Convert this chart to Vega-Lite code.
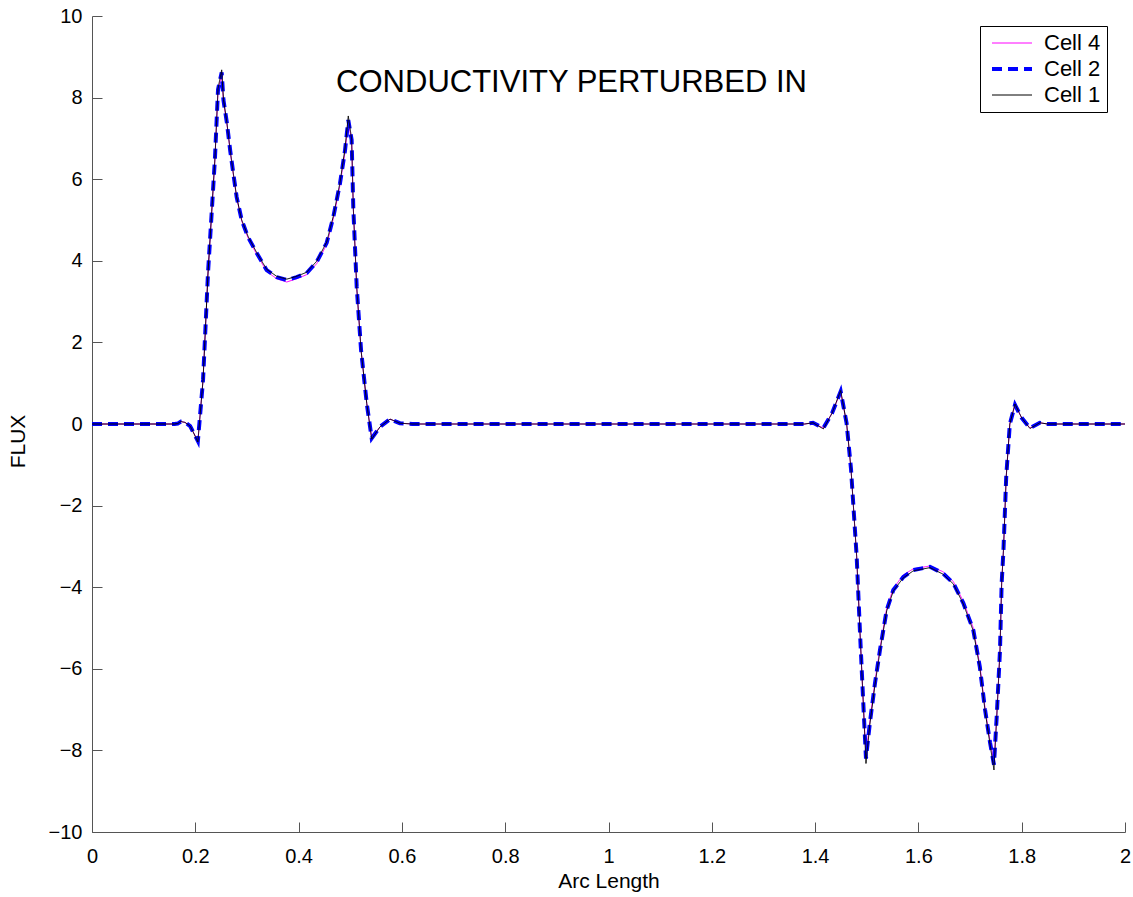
{
  "$schema": "https://vega.github.io/schema/vega-lite/v6.json",
  "autosize": {"type": "none"},
  "width": 1033,
  "height": 816,
  "padding": {"left": 92, "top": 16, "right": 8, "bottom": 65},
  "background": "white",
  "config": {
    "view": {"stroke": null},
    "font": "Liberation Sans",
    "axis": {
      "grid": false,
      "domainColor": "#555555",
      "tickColor": "#555555",
      "tickSize": -10,
      "labelFlush": false,
      "labelFont": "Liberation Sans",
      "labelFontSize": 20,
      "labelColor": "black",
      "titleFont": "Liberation Sans",
      "titleFontSize": 20,
      "titleFontWeight": "normal",
      "titleColor": "black"
    }
  },
  "datasets": {
    "flux": [
      {"s": "Cell 4", "x": 0, "y": 0}, {"s": "Cell 4", "x": 0.1, "y": 0}, {"s": "Cell 4", "x": 0.16, "y": 0}, {"s": "Cell 4", "x": 0.166, "y": 0.01}, {"s": "Cell 4", "x": 0.172, "y": 0.06}, {"s": "Cell 4", "x": 0.18, "y": 0.04}, {"s": "Cell 4", "x": 0.19, "y": -0.05}, {"s": "Cell 4", "x": 0.196, "y": -0.2}, {"s": "Cell 4", "x": 0.205, "y": -0.4}, {"s": "Cell 4", "x": 0.215, "y": 1.08}, {"s": "Cell 4", "x": 0.2246, "y": 3.7}, {"s": "Cell 4", "x": 0.2318, "y": 5.2}, {"s": "Cell 4", "x": 0.238, "y": 6.5}, {"s": "Cell 4", "x": 0.244, "y": 8.15}, {"s": "Cell 4", "x": 0.2511, "y": 8.58}, {"s": "Cell 4", "x": 0.2545, "y": 7.92}, {"s": "Cell 4", "x": 0.2612, "y": 7.36}, {"s": "Cell 4", "x": 0.2676, "y": 6.68}, {"s": "Cell 4", "x": 0.2735, "y": 6.13}, {"s": "Cell 4", "x": 0.2801, "y": 5.54}, {"s": "Cell 4", "x": 0.2898, "y": 4.98}, {"s": "Cell 4", "x": 0.3021, "y": 4.56}, {"s": "Cell 4", "x": 0.3189, "y": 4.16}, {"s": "Cell 4", "x": 0.3382, "y": 3.74}, {"s": "Cell 4", "x": 0.3576, "y": 3.56}, {"s": "Cell 4", "x": 0.377, "y": 3.48}, {"s": "Cell 4", "x": 0.3963, "y": 3.56}, {"s": "Cell 4", "x": 0.4157, "y": 3.66}, {"s": "Cell 4", "x": 0.435, "y": 3.93}, {"s": "Cell 4", "x": 0.4544, "y": 4.4}, {"s": "Cell 4", "x": 0.4672, "y": 5.03}, {"s": "Cell 4", "x": 0.4802, "y": 5.86}, {"s": "Cell 4", "x": 0.4898, "y": 6.66}, {"s": "Cell 4", "x": 0.4962, "y": 7.4}, {"s": "Cell 4", "x": 0.5027, "y": 6.94}, {"s": "Cell 4", "x": 0.5059, "y": 5.3}, {"s": "Cell 4", "x": 0.5125, "y": 3.36}, {"s": "Cell 4", "x": 0.521, "y": 1.8}, {"s": "Cell 4", "x": 0.532, "y": 0.5}, {"s": "Cell 4", "x": 0.5415, "y": -0.33}, {"s": "Cell 4", "x": 0.5576, "y": -0.07}, {"s": "Cell 4", "x": 0.577, "y": 0.12}, {"s": "Cell 4", "x": 0.596, "y": 0.02}, {"s": "Cell 4", "x": 0.62, "y": 0}, {"s": "Cell 4", "x": 1.38, "y": 0}, {"s": "Cell 4", "x": 1.396, "y": 0.03}, {"s": "Cell 4", "x": 1.416, "y": -0.1}, {"s": "Cell 4", "x": 1.433, "y": 0.27}, {"s": "Cell 4", "x": 1.4495, "y": 0.78}, {"s": "Cell 4", "x": 1.461, "y": 0.02}, {"s": "Cell 4", "x": 1.4695, "y": -1.1}, {"s": "Cell 4", "x": 1.4805, "y": -3.25}, {"s": "Cell 4", "x": 1.487, "y": -5.13}, {"s": "Cell 4", "x": 1.493, "y": -6.76}, {"s": "Cell 4", "x": 1.4985, "y": -8.12}, {"s": "Cell 4", "x": 1.506, "y": -7.3}, {"s": "Cell 4", "x": 1.516, "y": -6.3}, {"s": "Cell 4", "x": 1.5256, "y": -5.5}, {"s": "Cell 4", "x": 1.5386, "y": -4.52}, {"s": "Cell 4", "x": 1.5514, "y": -4.03}, {"s": "Cell 4", "x": 1.5708, "y": -3.7}, {"s": "Cell 4", "x": 1.59, "y": -3.55}, {"s": "Cell 4", "x": 1.6224, "y": -3.48}, {"s": "Cell 4", "x": 1.6476, "y": -3.62}, {"s": "Cell 4", "x": 1.6676, "y": -3.86}, {"s": "Cell 4", "x": 1.687, "y": -4.35}, {"s": "Cell 4", "x": 1.7063, "y": -5.0}, {"s": "Cell 4", "x": 1.719, "y": -5.92}, {"s": "Cell 4", "x": 1.729, "y": -6.96}, {"s": "Cell 4", "x": 1.7386, "y": -7.76}, {"s": "Cell 4", "x": 1.7463, "y": -8.28}, {"s": "Cell 4", "x": 1.7516, "y": -7.18}, {"s": "Cell 4", "x": 1.758, "y": -5.54}, {"s": "Cell 4", "x": 1.7612, "y": -3.9}, {"s": "Cell 4", "x": 1.7647, "y": -3.09}, {"s": "Cell 4", "x": 1.77, "y": -1.3}, {"s": "Cell 4", "x": 1.777, "y": 0.0}, {"s": "Cell 4", "x": 1.787, "y": 0.46}, {"s": "Cell 4", "x": 1.8, "y": 0.15}, {"s": "Cell 4", "x": 1.816, "y": -0.1}, {"s": "Cell 4", "x": 1.835, "y": 0.03}, {"s": "Cell 4", "x": 1.85, "y": 0}, {"s": "Cell 4", "x": 2, "y": 0},

      {"s": "Cell 2", "x": 0, "y": 0}, {"s": "Cell 2", "x": 0.1, "y": 0}, {"s": "Cell 2", "x": 0.16, "y": 0}, {"s": "Cell 2", "x": 0.166, "y": 0.01}, {"s": "Cell 2", "x": 0.172, "y": 0.06}, {"s": "Cell 2", "x": 0.18, "y": 0.04}, {"s": "Cell 2", "x": 0.19, "y": -0.05}, {"s": "Cell 2", "x": 0.196, "y": -0.2}, {"s": "Cell 2", "x": 0.205, "y": -0.42}, {"s": "Cell 2", "x": 0.215, "y": 1.08}, {"s": "Cell 2", "x": 0.2246, "y": 3.7}, {"s": "Cell 2", "x": 0.2318, "y": 5.2}, {"s": "Cell 2", "x": 0.238, "y": 6.5}, {"s": "Cell 2", "x": 0.244, "y": 8.2}, {"s": "Cell 2", "x": 0.2511, "y": 8.62}, {"s": "Cell 2", "x": 0.2545, "y": 7.94}, {"s": "Cell 2", "x": 0.2612, "y": 7.38}, {"s": "Cell 2", "x": 0.2676, "y": 6.7}, {"s": "Cell 2", "x": 0.2735, "y": 6.15}, {"s": "Cell 2", "x": 0.2801, "y": 5.56}, {"s": "Cell 2", "x": 0.2898, "y": 5.0}, {"s": "Cell 2", "x": 0.3021, "y": 4.58}, {"s": "Cell 2", "x": 0.3189, "y": 4.19}, {"s": "Cell 2", "x": 0.3382, "y": 3.77}, {"s": "Cell 2", "x": 0.3576, "y": 3.6}, {"s": "Cell 2", "x": 0.377, "y": 3.53}, {"s": "Cell 2", "x": 0.3963, "y": 3.6}, {"s": "Cell 2", "x": 0.4157, "y": 3.7}, {"s": "Cell 2", "x": 0.435, "y": 3.97}, {"s": "Cell 2", "x": 0.4544, "y": 4.44}, {"s": "Cell 2", "x": 0.4672, "y": 5.07}, {"s": "Cell 2", "x": 0.4802, "y": 5.9}, {"s": "Cell 2", "x": 0.4898, "y": 6.7}, {"s": "Cell 2", "x": 0.4962, "y": 7.45}, {"s": "Cell 2", "x": 0.5027, "y": 6.96}, {"s": "Cell 2", "x": 0.5059, "y": 5.3}, {"s": "Cell 2", "x": 0.5125, "y": 3.36}, {"s": "Cell 2", "x": 0.521, "y": 1.8}, {"s": "Cell 2", "x": 0.532, "y": 0.5}, {"s": "Cell 2", "x": 0.5415, "y": -0.35}, {"s": "Cell 2", "x": 0.5576, "y": -0.07}, {"s": "Cell 2", "x": 0.577, "y": 0.12}, {"s": "Cell 2", "x": 0.596, "y": 0.02}, {"s": "Cell 2", "x": 0.62, "y": 0}, {"s": "Cell 2", "x": 1.38, "y": 0}, {"s": "Cell 2", "x": 1.396, "y": 0.03}, {"s": "Cell 2", "x": 1.416, "y": -0.1}, {"s": "Cell 2", "x": 1.433, "y": 0.27}, {"s": "Cell 2", "x": 1.4495, "y": 0.8}, {"s": "Cell 2", "x": 1.461, "y": 0.02}, {"s": "Cell 2", "x": 1.4695, "y": -1.1}, {"s": "Cell 2", "x": 1.4805, "y": -3.25}, {"s": "Cell 2", "x": 1.487, "y": -5.13}, {"s": "Cell 2", "x": 1.493, "y": -6.76}, {"s": "Cell 2", "x": 1.4985, "y": -8.2}, {"s": "Cell 2", "x": 1.506, "y": -7.33}, {"s": "Cell 2", "x": 1.516, "y": -6.35}, {"s": "Cell 2", "x": 1.5256, "y": -5.54}, {"s": "Cell 2", "x": 1.5386, "y": -4.56}, {"s": "Cell 2", "x": 1.5514, "y": -4.07}, {"s": "Cell 2", "x": 1.5708, "y": -3.75}, {"s": "Cell 2", "x": 1.59, "y": -3.58}, {"s": "Cell 2", "x": 1.6224, "y": -3.5}, {"s": "Cell 2", "x": 1.6476, "y": -3.66}, {"s": "Cell 2", "x": 1.6676, "y": -3.9}, {"s": "Cell 2", "x": 1.687, "y": -4.39}, {"s": "Cell 2", "x": 1.7063, "y": -5.05}, {"s": "Cell 2", "x": 1.719, "y": -5.96}, {"s": "Cell 2", "x": 1.729, "y": -7.0}, {"s": "Cell 2", "x": 1.7386, "y": -7.8}, {"s": "Cell 2", "x": 1.7463, "y": -8.35}, {"s": "Cell 2", "x": 1.7516, "y": -7.18}, {"s": "Cell 2", "x": 1.758, "y": -5.54}, {"s": "Cell 2", "x": 1.7612, "y": -3.9}, {"s": "Cell 2", "x": 1.7647, "y": -3.09}, {"s": "Cell 2", "x": 1.77, "y": -1.3}, {"s": "Cell 2", "x": 1.777, "y": 0.0}, {"s": "Cell 2", "x": 1.787, "y": 0.47}, {"s": "Cell 2", "x": 1.8, "y": 0.15}, {"s": "Cell 2", "x": 1.816, "y": -0.1}, {"s": "Cell 2", "x": 1.835, "y": 0.03}, {"s": "Cell 2", "x": 1.85, "y": 0}, {"s": "Cell 2", "x": 2, "y": 0},

      {"s": "Cell 1", "x": 0, "y": 0}, {"s": "Cell 1", "x": 0.1, "y": 0}, {"s": "Cell 1", "x": 0.16, "y": 0}, {"s": "Cell 1", "x": 0.166, "y": 0.01}, {"s": "Cell 1", "x": 0.172, "y": 0.06}, {"s": "Cell 1", "x": 0.18, "y": 0.04}, {"s": "Cell 1", "x": 0.19, "y": -0.05}, {"s": "Cell 1", "x": 0.196, "y": -0.2}, {"s": "Cell 1", "x": 0.205, "y": -0.44}, {"s": "Cell 1", "x": 0.215, "y": 1.08}, {"s": "Cell 1", "x": 0.2246, "y": 3.7}, {"s": "Cell 1", "x": 0.2318, "y": 5.2}, {"s": "Cell 1", "x": 0.238, "y": 6.5}, {"s": "Cell 1", "x": 0.244, "y": 8.22}, {"s": "Cell 1", "x": 0.2511, "y": 8.68}, {"s": "Cell 1", "x": 0.2545, "y": 7.96}, {"s": "Cell 1", "x": 0.2612, "y": 7.38}, {"s": "Cell 1", "x": 0.2676, "y": 6.7}, {"s": "Cell 1", "x": 0.2735, "y": 6.15}, {"s": "Cell 1", "x": 0.2801, "y": 5.56}, {"s": "Cell 1", "x": 0.2898, "y": 5.0}, {"s": "Cell 1", "x": 0.3021, "y": 4.6}, {"s": "Cell 1", "x": 0.3189, "y": 4.2}, {"s": "Cell 1", "x": 0.3382, "y": 3.79}, {"s": "Cell 1", "x": 0.3576, "y": 3.62}, {"s": "Cell 1", "x": 0.377, "y": 3.55}, {"s": "Cell 1", "x": 0.3963, "y": 3.62}, {"s": "Cell 1", "x": 0.4157, "y": 3.72}, {"s": "Cell 1", "x": 0.435, "y": 3.99}, {"s": "Cell 1", "x": 0.4544, "y": 4.46}, {"s": "Cell 1", "x": 0.4672, "y": 5.09}, {"s": "Cell 1", "x": 0.4802, "y": 5.92}, {"s": "Cell 1", "x": 0.4898, "y": 6.74}, {"s": "Cell 1", "x": 0.4962, "y": 7.55}, {"s": "Cell 1", "x": 0.5027, "y": 6.98}, {"s": "Cell 1", "x": 0.5059, "y": 5.3}, {"s": "Cell 1", "x": 0.5125, "y": 3.36}, {"s": "Cell 1", "x": 0.521, "y": 1.8}, {"s": "Cell 1", "x": 0.532, "y": 0.5}, {"s": "Cell 1", "x": 0.5415, "y": -0.37}, {"s": "Cell 1", "x": 0.5576, "y": -0.07}, {"s": "Cell 1", "x": 0.577, "y": 0.12}, {"s": "Cell 1", "x": 0.596, "y": 0.02}, {"s": "Cell 1", "x": 0.62, "y": 0}, {"s": "Cell 1", "x": 1.38, "y": 0}, {"s": "Cell 1", "x": 1.396, "y": 0.03}, {"s": "Cell 1", "x": 1.416, "y": -0.12}, {"s": "Cell 1", "x": 1.433, "y": 0.27}, {"s": "Cell 1", "x": 1.4495, "y": 0.82}, {"s": "Cell 1", "x": 1.461, "y": 0.02}, {"s": "Cell 1", "x": 1.4695, "y": -1.1}, {"s": "Cell 1", "x": 1.4805, "y": -3.25}, {"s": "Cell 1", "x": 1.487, "y": -5.13}, {"s": "Cell 1", "x": 1.493, "y": -6.76}, {"s": "Cell 1", "x": 1.4985, "y": -8.32}, {"s": "Cell 1", "x": 1.506, "y": -7.36}, {"s": "Cell 1", "x": 1.516, "y": -6.38}, {"s": "Cell 1", "x": 1.5256, "y": -5.56}, {"s": "Cell 1", "x": 1.5386, "y": -4.58}, {"s": "Cell 1", "x": 1.5514, "y": -4.09}, {"s": "Cell 1", "x": 1.5708, "y": -3.77}, {"s": "Cell 1", "x": 1.59, "y": -3.6}, {"s": "Cell 1", "x": 1.6224, "y": -3.52}, {"s": "Cell 1", "x": 1.6476, "y": -3.68}, {"s": "Cell 1", "x": 1.6676, "y": -3.92}, {"s": "Cell 1", "x": 1.687, "y": -4.41}, {"s": "Cell 1", "x": 1.7063, "y": -5.07}, {"s": "Cell 1", "x": 1.719, "y": -5.98}, {"s": "Cell 1", "x": 1.729, "y": -7.02}, {"s": "Cell 1", "x": 1.7386, "y": -7.84}, {"s": "Cell 1", "x": 1.7463, "y": -8.48}, {"s": "Cell 1", "x": 1.7516, "y": -7.2}, {"s": "Cell 1", "x": 1.758, "y": -5.54}, {"s": "Cell 1", "x": 1.7612, "y": -3.9}, {"s": "Cell 1", "x": 1.7647, "y": -3.09}, {"s": "Cell 1", "x": 1.77, "y": -1.3}, {"s": "Cell 1", "x": 1.777, "y": 0.0}, {"s": "Cell 1", "x": 1.787, "y": 0.49}, {"s": "Cell 1", "x": 1.8, "y": 0.15}, {"s": "Cell 1", "x": 1.816, "y": -0.11}, {"s": "Cell 1", "x": 1.835, "y": 0.03}, {"s": "Cell 1", "x": 1.85, "y": 0}, {"s": "Cell 1", "x": 2, "y": 0}
    ],
    "note": [
      {"x": 0.9284, "y": 8.36, "label": "CONDUCTIVITY PERTURBED IN"}
    ]
  },
  "encoding": {
    "x": {
      "field": "x", "type": "quantitative",
      "scale": {"domain": [0, 2], "nice": false, "zero": false},
      "axis": {"values": [0, 0.2, 0.4, 0.6, 0.8, 1, 1.2, 1.4, 1.6, 1.8, 2], "format": "~g", "title": "Arc Length", "labelPadding": 24, "titlePadding": 4, "titleFontSize": 21}
    },
    "y": {
      "field": "y", "type": "quantitative",
      "scale": {"domain": [-10, 10], "nice": false, "zero": false},
      "axis": {"values": [-10, -8, -6, -4, -2, 0, 2, 4, 6, 8, 10], "format": "d", "title": "FLUX", "labelPadding": 20, "titleFontSize": 21, "titleX": -64, "titleY": 425}
    }
  },
  "layer": [
    {
      "data": {"name": "flux"},
      "transform": [{"filter": "datum.s === 'Cell 4'"}],
      "mark": {"type": "line", "interpolate": "linear", "strokeWidth": 1},
      "encoding": {
        "color": {"field": "s", "type": "nominal", "scale": {"domain": ["Cell 4", "Cell 2", "Cell 1"], "range": ["#ff00ff", "#0000ff", "#000000"]},
          "legend": {"title": null, "orient": "none", "legendX": 888, "legendY": 10, "symbolType": "M-0.5,0H3.5", "symbolSize": 400, "labelFont": "Liberation Sans", "labelFontSize": 22, "labelColor": "black", "strokeColor": "black", "fillColor": "white", "padding": 6, "rowPadding": 4, "labelOffset": 36,
            "encode": {"symbols": {"update": {"strokeWidth": {"signal": "datum.value === 'Cell 2' ? 4 : 1"}}}}}},
        "strokeDash": {"field": "s", "type": "nominal", "scale": {"domain": ["Cell 4", "Cell 2", "Cell 1"], "range": [[1, 0], [10, 6], [1, 0]]}}
      }
    },
    {
      "data": {"name": "flux"},
      "transform": [{"filter": "datum.s === 'Cell 2'"}],
      "mark": {"type": "line", "interpolate": "linear", "strokeWidth": 4},
      "encoding": {
        "color": {"field": "s", "type": "nominal"},
        "strokeDash": {"field": "s", "type": "nominal"}
      }
    },
    {
      "data": {"name": "flux"},
      "transform": [{"filter": "datum.s === 'Cell 1'"}],
      "mark": {"type": "line", "interpolate": "linear", "strokeWidth": 1},
      "encoding": {
        "color": {"field": "s", "type": "nominal"},
        "strokeDash": {"field": "s", "type": "nominal"}
      }
    },
    {
      "data": {"name": "note"},
      "mark": {"type": "text", "font": "Liberation Sans", "fontSize": 31, "fontWeight": "normal", "align": "center", "baseline": "middle", "color": "black"},
      "encoding": {"text": {"field": "label"}}
    }
  ]
}
